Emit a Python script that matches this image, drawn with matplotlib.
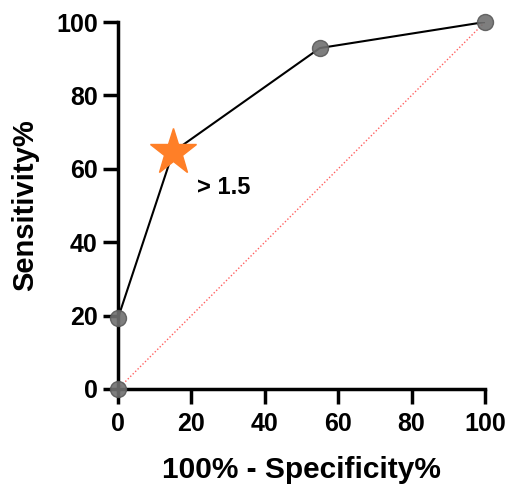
import matplotlib

matplotlib.use("Agg")
import matplotlib.pyplot as plt

# ROC points (100% - specificity, sensitivity)
fpr = [0, 0, 15, 55, 100]
tpr = [0, 19.3, 64.6, 92.9, 100]
cut_x, cut_y = 15, 64.6
cut_label = "> 1.5"
x_ticks = [0, 20, 40, 60, 80, 100]
y_ticks = [0, 20, 40, 60, 80, 100]

plt.rcParams["font.family"] = ["Liberation Sans", "DejaVu Sans"]
plt.rcParams["font.weight"] = "bold"

fig = plt.figure(figsize=(5.07, 4.86), dpi=100)
ax = fig.add_axes([0.2327, 0.1996, 0.7239, 0.7551])

ax.plot([0, 100], [0, 100], color="#ff6060", lw=1, ls=(0, (1, 1.5)), zorder=1)
ax.plot(fpr, tpr, color="black", lw=1.5, zorder=2)
ax.plot(fpr, tpr, "o", ms=11.5, mfc="#707070", mec="#5a5a5a", mew=1, alpha=0.9, ls="none",
        zorder=3, clip_on=False)
ax.plot([cut_x], [cut_y], "*", ms=35, color="#ff7f27", mec="#ff7f27", zorder=4, clip_on=False)
ax.text(cut_x + 6.5, cut_y - 9.8, cut_label, fontsize=17, fontweight="bold", va="center")

ax.set_xlim(0, 100)
ax.set_ylim(0, 100)
ax.set_xticks(x_ticks)
ax.set_yticks(y_ticks)
for s in ("top", "right"):
    ax.spines[s].set_visible(False)
for s in ("left", "bottom"):
    ax.spines[s].set_linewidth(2.5)
ax.tick_params(width=2.5, length=10.5, labelsize=18, pad=4)
ax.tick_params(axis="x", pad=6)
for lab in ax.get_xticklabels() + ax.get_yticklabels():
    lab.set_fontweight("bold")
ax.set_xlabel("100% - Specificity%", fontsize=21.5, fontweight="bold", va="center")
ax.set_ylabel("Sensitivity%", fontsize=21, fontweight="bold", va="center")
ax.xaxis.set_label_coords(0.5, -0.22)
ax.yaxis.set_label_coords(-0.253, 0.5)

fig.savefig("out.png", dpi=100)
